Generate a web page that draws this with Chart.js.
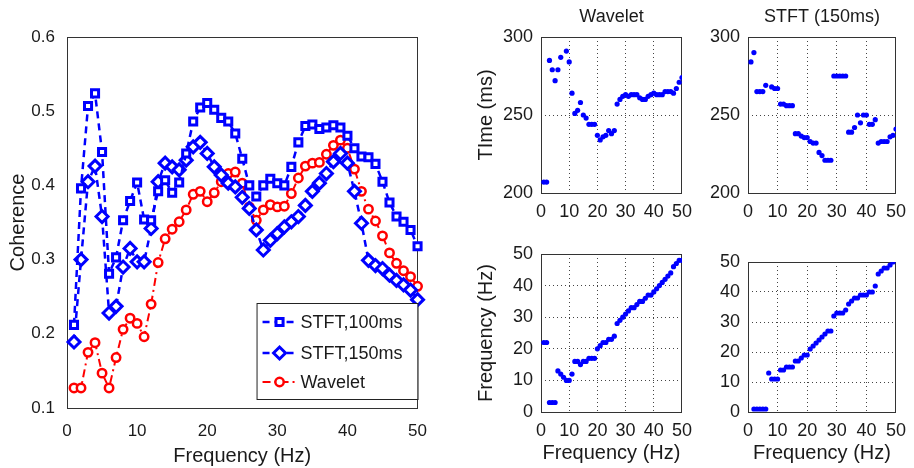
<!DOCTYPE html>
<html>
<head>
<meta charset="utf-8">
<script src="https://cdn.jsdelivr.net/npm/chart.js@4.4.1/dist/chart.umd.min.js"></script>
<style>
  body { margin: 0; background: #fff; }
  #wrap { position: relative; width: 914px; height: 468px; overflow: hidden; }
  canvas { position: absolute; }
</style>
</head>
<body>
<div id="wrap">
  <canvas id="main" style="left:0;top:0;width:440px;height:468px" width="440" height="468"></canvas>
  <canvas id="wvTime" style="left:470px;top:0;width:230px;height:230px" width="230" height="230"></canvas>
  <canvas id="stTime" style="left:700px;top:0;width:214px;height:230px" width="214" height="230"></canvas>
  <canvas id="wvFreq" style="left:470px;top:230px;width:230px;height:238px" width="230" height="238"></canvas>
  <canvas id="stFreq" style="left:700px;top:230px;width:214px;height:238px" width="214" height="238"></canvas>
</div>
<script>
// frequency bins (Hz)
const freq = [1,2,3,4,5,6,7,8,9,10,11,12,13,14,15,16,17,18,19,20,21,22,23,24,25,
              26,27,28,29,30,31,32,33,34,35,36,37,38,39,40,41,42,43,44,45,46,47,48,49,50];

// coherence, left panel
const stft100 = [0.212,0.396,0.507,0.524,0.445,0.281,0.303,0.353,0.379,0.404,
                 0.354,0.353,0.392,0.407,0.390,0.404,0.443,0.486,0.505,0.511,
                 0.502,0.491,0.486,0.470,0.436,0.400,0.385,0.400,0.409,0.403,
                 0.400,0.425,0.458,0.480,0.482,0.476,0.478,0.481,0.478,0.467,
                 0.450,0.439,0.438,0.429,0.405,0.377,0.358,0.351,0.340,0.318];
const stft150 = [0.189,0.300,0.405,0.426,0.358,0.228,0.237,0.290,0.315,0.297,
                 0.297,0.342,0.405,0.430,0.425,0.421,0.434,0.452,0.458,0.443,
                 0.425,0.414,0.403,0.398,0.384,0.369,0.340,0.313,0.326,0.335,
                 0.344,0.351,0.358,0.373,0.392,0.403,0.416,0.432,0.443,0.430,
                 0.392,0.349,0.299,0.292,0.288,0.279,0.272,0.266,0.259,0.246];
const wavelet = [0.127,0.127,0.175,0.188,0.147,0.127,0.168,0.206,0.221,0.214,
                 0.196,0.240,0.296,0.328,0.341,0.351,0.367,0.388,0.392,0.378,
                 0.390,0.405,0.416,0.418,0.403,0.371,0.353,0.367,0.374,0.371,
                 0.372,0.389,0.410,0.426,0.430,0.431,0.442,0.454,0.461,0.450,
                 0.422,0.392,0.368,0.352,0.332,0.309,0.295,0.285,0.277,0.264];

// time of max coherence (ms)
const wvTime = [207,207,285,279,272,279,287,null,291,284,
                264,251,253,258,250,248,244,244,244,237,
                234,236,237,240,238,240,257,260,262,263,
                262,263,263,263,261,260,260,262,263,264,
                263,263,263,265,265,265,264,267,271,274];
const stTime = [284,290,265,265,265,269,null,268,267,267,
                257,257,256,256,256,238,238,236.5,235.5,235.5,
                233,232,232,226,224,221,221,221,275,275,
                275,275,275,239,239,242,250,245,250,250,
                244,244,247,232,233,233,233,236,237,241];

// frequency of max coherence (Hz)
const wvFreq = [22,22,3,3,3,13,12,11,10,10,
                12,16,16,15,16,16,17,17,17,20,
                21,22,22,23,23,24,28,29,30,31,
                32,33,33,34,35,35,36,37,37,38,
                39,40,41,42,43,44,46,47,48,48];
const stFreq = [null,1,1,1,1,1,13,11,11,11,
                14,14,15,15,15,17,17,18,19,19,
                21,22,23,24,25,26,27,27,32,33,
                33,33,34,36,37,38,38,39,39,39,
                40,40,42,46,47,48,48,49,50,null];

const BLUE = '#0000ff';
const RED = '#ff0000';
const FONT = '"Liberation Sans", Arial, Helvetica, sans-serif';
Chart.defaults.font.family = FONT;
Chart.defaults.color = '#1a1a1a';

function pts(ys) {
  return freq.map((f, i) => ({x: f, y: ys[i]}));
}

// box around plot area, optional title and legend
const frame = {
  id: 'frame',
  beforeDatasetsDraw(chart) {
    const {ctx, chartArea: a} = chart;
    ctx.save();
    ctx.strokeStyle = '#333';
    ctx.lineWidth = 1;
    ctx.strokeRect(Math.round(a.left) + 0.5, Math.round(a.top) + 0.5,
                   Math.round(a.width) - 1, Math.round(a.height));
    ctx.restore();
  },
  afterDraw(chart, args, opts) {
    const {ctx, chartArea: a} = chart;
    ctx.save();
    if (opts.title) {
      ctx.font = '18px ' + FONT;
      ctx.fillStyle = '#1a1a1a';
      ctx.textAlign = 'center';
      ctx.textBaseline = 'middle';
      ctx.fillText(opts.title, (a.left + a.right) / 2, 17);
    }
    if (opts.legend) {
      const w = 161, h = 96;
      const x0 = a.right - w, y0 = a.bottom - 9 - h;
      ctx.fillStyle = '#fff';
      ctx.fillRect(x0, y0, w, h);
      ctx.strokeStyle = '#222';
      ctx.lineWidth = 1;
      ctx.strokeRect(x0 + 0.5, y0 + 0.5, w, h);
      const rows = [19, 50, 79];
      chart.data.datasets.forEach((ds, i) => {
        const y = y0 + rows[i];
        ctx.strokeStyle = ds.borderColor;
        ctx.lineWidth = ds.borderWidth;
        ctx.setLineDash(ds.borderDash);
        ctx.beginPath();
        ctx.moveTo(x0 + 6, y);
        ctx.lineTo(x0 + 40, y);
        ctx.stroke();
        ctx.setLineDash([]);
        ctx.fillStyle = ds.pointBackgroundColor;
        ctx.strokeStyle = ds.pointBorderColor;
        ctx.lineWidth = ds.pointBorderWidth;
        Chart.helpers.drawPoint(ctx, {
          pointStyle: ds.pointStyle, radius: ds.pointRadius, rotation: 0,
          borderWidth: ds.pointBorderWidth
        }, x0 + 23, y);
        ctx.fillStyle = '#1a1a1a';
        ctx.font = '18px ' + FONT;
        ctx.textAlign = 'left';
        ctx.textBaseline = 'middle';
        ctx.fillText(ds.label, x0 + 44, y + 1);
      });
    }
    ctx.restore();
  }
};

new Chart(document.getElementById('main'), {
  type: 'line',
  data: {
    datasets: [{
      label: 'STFT,100ms',
      data: pts(stft100),
      borderColor: BLUE,
      borderWidth: 2.5,
      borderDash: [7, 5],
      pointStyle: 'rect',
      pointRadius: 5,
      pointBorderWidth: 3,
      pointBorderColor: BLUE,
      pointBackgroundColor: '#fff',
      tension: 0,
      clip: false
    }, {
      label: 'STFT,150ms',
      data: pts(stft150),
      borderColor: BLUE,
      borderWidth: 2.5,
      borderDash: [7, 5],
      pointStyle: 'rectRot',
      pointRadius: 6,
      pointBorderWidth: 3,
      pointBorderColor: BLUE,
      pointBackgroundColor: '#fff',
      tension: 0,
      clip: false
    }, {
      label: 'Wavelet',
      data: pts(wavelet),
      borderColor: RED,
      borderWidth: 2,
      borderDash: [8, 4, 2, 4],
      pointStyle: 'circle',
      pointRadius: 4.2,
      pointBorderWidth: 2.5,
      pointBorderColor: RED,
      pointBackgroundColor: '#fff',
      tension: 0,
      clip: false
    }]
  },
  options: {
    responsive: false,
    animation: false,
    layout: {padding: {left: 0, top: 37, right: 12, bottom: 0}},
    plugins: {
      legend: {display: false},
      tooltip: {enabled: false},
      frame: {legend: true}
    },
    scales: {
      x: {
        type: 'linear', min: 0, max: 50,
        ticks: {stepSize: 10, padding: 13, font: {size: 17}},
        grid: {display: false, drawTicks: false},
        border: {display: false},
        title: {display: true, text: 'Frequency (Hz)', font: {size: 20}, padding: {top: 0, bottom: 0}},
        afterFit(s) { s.height = 60; }
      },
      y: {
        min: 0.1, max: 0.6,
        ticks: {stepSize: 0.1, padding: 12, font: {size: 17}, callback: v => v.toFixed(1)},
        grid: {display: false, drawTicks: false},
        border: {display: false},
        title: {display: true, text: 'Coherence', font: {size: 20}, padding: {top: 6, bottom: 0}},
        afterFit(s) { s.width = 67; }
      }
    }
  },
  plugins: [frame]
});

function small(id, ys, yMin, yMax, yStep, o) {
  return new Chart(document.getElementById(id), {
    type: 'scatter',
    data: {
      datasets: [{
        data: pts(ys),
        pointStyle: 'circle',
        pointRadius: 2.6,
        pointBorderWidth: 0,
        pointBackgroundColor: BLUE,
        showLine: false
      }]
    },
    options: {
      responsive: false,
      animation: false,
      layout: {padding: {left: 0, top: o.top, right: o.right, bottom: 0}},
      plugins: {
        legend: {display: false},
        tooltip: {enabled: false},
        frame: {title: o.title}
      },
      scales: {
        x: {
          type: 'linear', min: 0, max: 50,
          ticks: {stepSize: 10, padding: 8, font: {size: 18}},
          grid: {color: '#444', lineWidth: 1, drawTicks: false},
          border: {display: false, dash: [1, 3]},
          title: {display: !!o.xTitle, text: o.xTitle, font: {size: 20}, padding: {top: 0, bottom: 3}},
          afterFit(s) { s.height = o.xHeight; }
        },
        y: {
          min: yMin, max: yMax,
          ticks: {stepSize: yStep, padding: 8, font: {size: 18}},
          grid: {color: '#444', lineWidth: 1, drawTicks: false},
          border: {display: false, dash: [1, 3]},
          title: {display: !!o.yTitle, text: o.yTitle, font: {size: 20}, padding: {top: 4, bottom: 0}},
          afterFit(s) { s.width = o.yWidth; }
        }
      }
    },
    plugins: [frame]
  });
}

small('wvTime', wvTime, 200, 300, 50,
      {top: 37, right: 6, yWidth: 71, xHeight: 37, title: 'Wavelet', yTitle: 'TIme (ms)'});
small('stTime', stTime, 200, 300, 50,
      {top: 37, right: 11, yWidth: 48, xHeight: 37, title: 'STFT (150ms)'});
small('wvFreq', wvFreq, 0, 50, 10,
      {top: 24, right: 6, yWidth: 71, xHeight: 56, yTitle: 'Frequency (Hz)', xTitle: 'Frequency (Hz)'});
small('stFreq', stFreq, 0, 50, 10,
      {top: 32, right: 11, yWidth: 48, xHeight: 56, xTitle: 'Frequency (Hz)'});
</script>
</body>
</html>
